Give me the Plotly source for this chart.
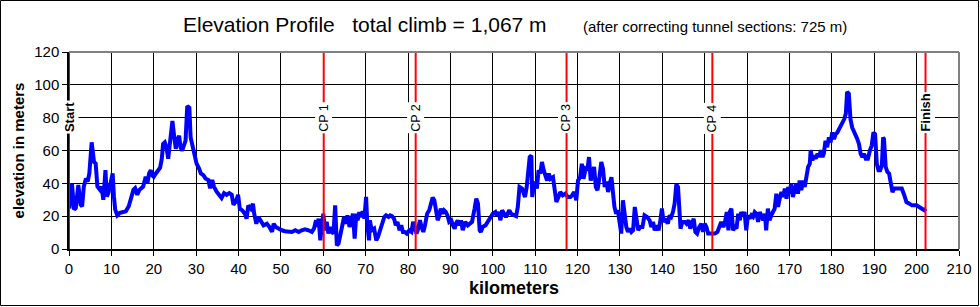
import plotly.graph_objects as go

# ---------------- data ----------------
km = [0.1, 0.7, 1.2, 1.6, 2.2, 2.75, 3.1, 3.5, 4.0, 4.4, 4.8, 5.35, 5.9, 6.3, 6.7, 7.3, 7.7, 8.1, 8.6, 8.9,
      9.3, 9.7, 10.3, 10.6, 10.9, 11.4, 12.0, 12.8, 13.4, 14.1, 14.5, 15.2, 15.6, 16.1, 16.6, 17.1, 17.5, 18.1,
      18.5, 18.9, 19.3, 19.6, 20.0, 20.5, 21.1, 21.5, 21.9, 22.2, 22.6, 23.0, 23.4, 23.8, 24.4, 24.8, 25.2,
      25.5, 26.0, 26.3, 26.7, 27.1, 27.5, 27.9, 28.4, 28.7, 29.3, 29.7, 30.1, 30.7, 31.1, 31.7, 32.2, 32.9,
      33.3, 33.8, 34.2, 34.8, 35.5, 36.0, 36.6, 37.2, 37.8, 38.4, 38.8, 39.4, 39.9, 40.3, 40.9, 41.5, 41.9,
      42.3, 42.9, 43.4, 43.7, 44.2, 44.7, 45.3, 45.9, 46.7, 47.3, 47.9, 48.3, 48.8, 49.4, 50.2, 51.0, 51.8,
      52.6, 53.4, 54.2, 54.9, 55.7, 56.5, 57.3, 57.8, 58.3, 58.6, 58.9, 59.3, 59.7, 60.0, 60.4, 60.8, 61.2,
      61.6, 62.0, 62.4, 62.8, 63.2, 63.6, 64.0, 64.5, 64.9, 65.4, 65.7, 66.2, 66.5, 67.0, 67.4, 67.8, 68.1,
      68.5, 68.9, 69.3, 69.7, 70.1, 70.4, 70.8, 71.0, 71.4, 72.0, 72.5, 72.9, 73.4, 73.9, 74.4, 74.8, 75.4,
      75.8, 76.2, 76.7, 77.1, 77.5, 78.0, 78.4, 78.8, 79.2, 79.7, 80.3, 80.8, 81.2, 81.6, 82.0, 82.4, 82.8,
      83.2, 83.6, 84.0, 84.5, 85.0, 85.4, 85.8, 86.2, 86.6, 87.0, 87.4, 87.7, 88.1, 88.5, 88.9, 89.3, 89.7,
      90.2, 90.6, 91.0, 91.3, 91.7, 92.1, 92.5, 92.9, 93.5, 94.1, 94.6, 95.1, 95.7, 96.1, 96.5, 96.9, 97.2,
      97.6, 98.3, 98.8, 99.4, 100.0, 100.6, 100.9, 101.4, 101.8, 102.2, 102.6, 103.1, 103.5, 103.9, 104.3,
      104.9, 105.5, 105.9, 106.3, 106.9, 107.2, 107.6, 108.0, 108.4, 108.7, 109.1, 109.3, 109.6, 110.1,
      110.4, 110.8, 111.2, 111.6, 112.0, 112.4, 112.8, 113.2, 113.6, 114.2, 114.6, 115.0, 115.5, 115.9,
      116.5, 117.1, 117.7, 118.3, 118.7, 119.2, 119.7, 120.1, 120.6, 121.0, 121.4, 121.9, 122.3, 122.7,
      123.1, 123.5, 123.9, 124.3, 124.7, 125.1, 125.6, 126.0, 126.4, 126.8, 127.2, 127.6, 128.0, 128.3,
      128.7, 129.1, 129.5, 129.9, 130.3, 130.7, 131.1, 131.5, 131.9, 132.3, 132.7, 133.1, 133.5, 133.9,
      134.3, 134.8, 135.3, 135.8, 136.4, 137.0, 137.4, 137.8, 138.2, 138.6, 139.1, 139.5, 139.9, 140.3,
      140.8, 141.3, 141.7, 142.1, 142.5, 142.9, 143.3, 143.7, 144.1, 144.3, 144.7, 145.3, 145.7, 146.2,
      146.6, 147.0, 147.4, 147.8, 148.2, 148.7, 149.2, 149.6, 150.0, 150.4, 150.8, 151.2, 151.8, 152.4,
      153.0, 153.5, 153.9, 154.4, 154.8, 155.2, 155.6, 155.9, 156.3, 156.7, 157.1, 157.5, 157.9, 158.3,
      158.6, 159.0, 159.4, 159.8, 160.2, 160.6, 161.0, 161.4, 161.8, 162.2, 162.6, 163.0, 163.4, 163.8,
      164.2, 164.5, 164.9, 165.3, 165.7, 166.1, 166.5, 166.9, 167.3, 167.7, 168.1, 168.5, 168.9, 169.3,
      169.7, 170.0, 170.4, 170.8, 171.2, 171.6, 172.0, 172.4, 172.8, 173.2, 173.6, 174.0, 174.4, 174.8,
      175.0, 175.4, 175.8, 176.2, 176.6, 177.0, 177.4, 177.8, 178.1, 178.5, 178.9, 179.3, 179.7, 180.1,
      180.5, 180.9, 181.3, 181.7, 182.1, 182.5, 182.9, 183.3, 183.6, 184.0, 184.4, 184.8, 185.2, 185.6,
      186.0, 186.4, 186.8, 187.2, 187.6, 188.0, 188.5, 189.0, 189.4, 189.8, 190.2, 190.6, 191.0, 191.4,
      191.8, 192.1, 192.3, 192.7, 193.1, 193.5, 193.9, 194.3, 194.7, 195.3, 195.9, 196.5, 197.1, 197.6,
      198.3, 198.9, 199.5, 200.0, 200.6, 201.2, 201.8, 202.2]

elevation = [24.6, 40, 24, 25, 39, 27, 26, 38, 43, 41, 46, 65, 53, 52, 38, 36, 38, 30, 48, 32,
             34, 38, 46, 32, 24, 20.5, 22, 22.5, 23, 26, 30, 36, 37, 33, 36, 37, 38, 44,
             40, 46, 48, 45, 44, 46, 48.5, 49.5, 55, 64, 65, 62, 55, 64, 78, 69, 61,
             66, 69, 62, 60, 63, 66, 87, 86, 68, 61, 58, 52, 49, 46, 45, 43, 42,
             37, 42, 38, 35, 33, 31, 34, 33, 34, 33, 27, 29, 33, 24.5, 23.5, 21.5, 18.5,
             26.5, 24.6, 27.6, 21.5, 15.4, 19.5, 16.5, 14.4, 15.4, 13.4, 10.4, 15.4, 13.4, 12.4, 11.4, 10.8, 10.4,
             10.4, 11.4, 10.4, 11.4, 12, 11.4, 10.4, 12.4, 17.5, 13.4, 18.5, 5.3, 17.5, 21.5, 11.4, 16.5, 9.4,
             13.4, 10.4, 9.4, 26.6, 2.2, 3.3, 9.4, 13.4, 19.5, 15.4, 20.5, 13.4, 17.5, 21.5, 6.3, 21.5, 17.5,
             22.5, 19.5, 23, 18.5, 31.7, 14.4, 5.3, 17.5, 11.4, 12.4, 5.3, 7.3, 11.4, 14.4, 19.5, 20.5, 19.5,
             20.5, 20, 18.5, 14.4, 16.5, 11.4, 14.4, 10.4, 10.4, 9.4, 11.4, 10.4, 16.5, 12.4, 9.4, 12.4, 17.5,
             13.4, 10.4, 14.4, 21.5, 23.6, 27.6, 31.3, 29.7, 23.6, 17.5, 20.5, 24.6, 21.5, 23.6, 22.6, 20.5, 16.5,
             17.5, 14.4, 12.4, 15.4, 17.5, 14.4, 17.5, 11.4, 16.5, 14.4, 15.4, 16.5, 24.6, 30.7, 27.6, 11.4, 10.4,
             13.4, 14.4, 16.5, 18.5, 21.5, 22.5, 20.5, 22.5, 17.5, 23.6, 21.5, 19.5, 21.5, 23.6, 21.5,
             20.5, 20, 25.6, 37.8, 36.8, 34.7, 31.7, 37.8, 46, 56, 57, 31.7, 36.8, 41,
             36.8, 48, 46, 53, 48, 43.7, 41.7, 46, 42.7, 43.7, 33.7, 28.6, 31.7, 34.7,
             32.7, 33.7, 31.7, 31.7, 32.7, 34.7, 29.7, 41.7, 43.7, 52, 42.7, 48.8, 48, 56,
             41.7, 46, 50, 37.8, 35.8, 42.7, 53, 48.8, 37.8, 41, 34.7, 40, 43.7, 35.8,
             25.6, 21.5, 23.6, 16.5, 9.4, 29.7, 19.5, 13.4, 10.4, 12.4, 10.4, 11.4, 25.6, 16.5,
             11.4, 13.4, 13.4, 20.5, 19.5, 17.5, 13.4, 16.5, 11.4, 14.4, 11.4, 16.5, 24.6, 16.5,
             18.5, 15.4, 20.5, 19.5, 22.5, 27.6, 39.4, 37.8, 23.6, 12.4, 16.5, 16.5, 15.4, 17.5,
             12.4, 15.4, 18.5, 10.4, 9.4, 13.4, 15.4, 10.4, 15.4, 13.4, 9.4, 9.4, 9.4, 9.4,
             10.4, 13.4, 16.5, 13.4, 16.5, 22.5, 11.4, 22.5, 24.6, 11.4, 13.4, 12.4, 21.5, 17.5,
             22.5, 20.5, 22.5, 11.4, 20.5, 18.5, 20.5, 19.5, 22.5, 21.5, 16.5, 22.5, 20.5, 17.5,
             21.5, 11.4, 24.6, 17.5, 20.5, 22.5, 24.6, 33.7, 25.6, 30.7, 34.7, 31.7, 36.8, 30.7,
             37.8, 33.7, 39.8, 31.7, 35.8, 39.8, 33.7, 41.7, 35.8, 41.7, 37.8, 43.7, 50, 52,
             60.2, 54, 57, 55, 58, 56, 60.2, 56, 58, 66, 62, 68, 65, 71,
             67, 70, 71, 73, 75, 77, 79, 82.5, 95.7, 94.7, 79, 74, 72, 69,
             67, 64, 58, 56, 58, 55, 55, 60.2, 63, 71, 70, 52, 48, 48,
             51, 68, 67, 50, 47, 46, 40, 34.7, 36.8, 36.8, 36.8, 36.8, 32.7, 28.6,
             27.6, 26.6, 26.6, 26.6, 25.6, 24.6, 23.6, 24.6]

checkpoint_km = [0, 60.1, 81.8, 117.4, 151.8, 202.1]
checkpoint_labels = ["Start", "CP 1", "CP 2", "CP 3", "CP 4", "Finish"]
checkpoint_bold = [True, False, False, False, False, True]

x_ticks = list(range(0, 211, 10))
y_ticks = list(range(0, 121, 20))

title_main = "Elevation Profile   total climb = 1,067 m"
title_sub = "(after correcting tunnel sections: 725 m)"

# ---------------- figure ----------------
FONT = "Liberation Sans, Arial, sans-serif"
W, H = 980, 307
L, R, T, B = 69, 21, 52, 58
PW, PH = W - L - R, H - T - B


def px_x(p):
    return (p - L) / PW


def px_y(p):
    return (H - B - p) / PH


fig = go.Figure()
fig.add_trace(go.Scatter(
    x=km, y=elevation, mode="lines",
    line=dict(color="#0000FF", width=4),
    hoverinfo="x+y", showlegend=False,
))

shapes = []
annotations = []
for cx, lab, bold in zip(checkpoint_km, checkpoint_labels, checkpoint_bold):
    shapes.append(dict(type="line", xref="x", yref="y", x0=cx, x1=cx, y0=0, y1=120,
                       line=dict(color="#FF0000", width=2), layer="above"))
    annotations.append(dict(
        x=cx, y=70, xref="x", yref="y", text=f"<b>{lab}</b>" if bold else lab,
        showarrow=False, textangle=-90, xanchor="center", yanchor="bottom",
        bgcolor="white", borderpad=1,
        font=dict(family=FONT, size=13 if bold else 12.5, color="black"),
    ))

# plot border: top & right grey
shapes.append(dict(type="line", xref="paper", yref="paper", x0=0, x1=1, y0=1, y1=1,
                   line=dict(color="#808080", width=2), layer="above"))
shapes.append(dict(type="line", xref="paper", yref="paper", x0=1, x1=1, y0=0, y1=1,
                   line=dict(color="#808080", width=2), layer="above"))
# outer frame
shapes.append(dict(type="rect", xref="paper", yref="paper",
                   x0=px_x(0.5), x1=px_x(978.5), y0=px_y(305.5), y1=px_y(0.5),
                   line=dict(color="black", width=1), fillcolor="rgba(0,0,0,0)", layer="above"))

annotations.append(dict(x=px_x(181), y=px_y(25), xref="paper", yref="paper", text=title_main,
                        showarrow=False, xanchor="left", yanchor="middle",
                        font=dict(family=FONT, size=21, color="black")))
annotations.append(dict(x=px_x(581), y=px_y(27), xref="paper", yref="paper", text=title_sub,
                        showarrow=False, xanchor="left", yanchor="middle",
                        font=dict(family=FONT, size=15, color="black")))

fig.update_layout(
    width=W, height=H,
    margin=dict(l=L, r=R, t=T, b=B, pad=0),
    paper_bgcolor="white", plot_bgcolor="white",
    font=dict(family=FONT, color="black"),
    shapes=shapes, annotations=annotations,
    showlegend=False,
)
fig.update_xaxes(
    range=[0, 210], tickvals=x_ticks, ticktext=[str(v) for v in x_ticks],
    showgrid=True, gridcolor="black", gridwidth=1,
    showline=True, linecolor="black", linewidth=1.5, zeroline=False,
    ticks="outside", ticklen=5, tickcolor="black", tickwidth=1,
    tickfont=dict(family=FONT, size=15, color="black"),
    title=dict(text="<b>kilometers</b>", font=dict(family=FONT, size=18, color="black"), standoff=6),
    automargin=False, fixedrange=True,
)
fig.update_yaxes(
    range=[0, 120], tickvals=y_ticks, ticktext=[str(v) for v in y_ticks],
    showgrid=True, gridcolor="black", gridwidth=1,
    showline=True, linecolor="black", linewidth=1.5, zeroline=False,
    ticks="outside", ticklen=5, tickcolor="black", tickwidth=1,
    tickfont=dict(family=FONT, size=15, color="black"),
    title=dict(text="<b>elevation in meters</b>", font=dict(family=FONT, size=15, color="black"), standoff=6),
    automargin=False, fixedrange=True,
)

fig.write_html("out.html", config={"displayModeBar": False})
